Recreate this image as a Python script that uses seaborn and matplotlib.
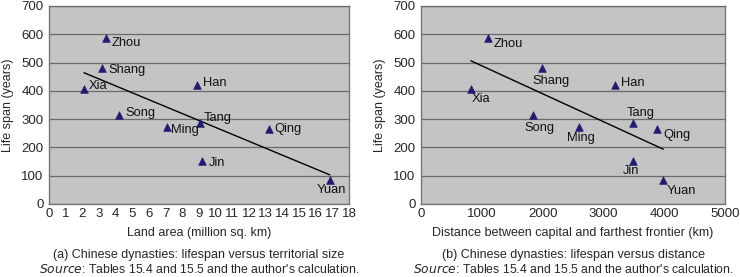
import numpy as np
import pandas as pd
import matplotlib
matplotlib.use("Agg")
import matplotlib.pyplot as plt
import seaborn as sns

# data
dynasties = ["Xia", "Shang", "Zhou", "Han", "Jin", "Tang", "Song", "Yuan", "Ming", "Qing"]
lifespan = [405, 482, 588, 421, 152, 285, 314, 84, 271, 264]
land_area = [2.1, 3.2, 3.4, 8.9, 9.2, 9.05, 4.2, 16.85, 7.05, 13.2]
distance = [820, 1995, 1100, 3185, 3495, 3495, 1845, 3985, 2595, 3885]

# label offsets in pixels (dx, dy down, ha)
offs_a = {"Zhou": (6, 5, "left"), "Shang": (6, 2, "left"), "Xia": (5, -3, "left"),
          "Song": (6, -2, "left"), "Ming": (5, 3, "left"), "Han": (6, -2, "left"),
          "Tang": (4, -5, "left"), "Qing": (5, 0, "left"), "Jin": (6, 2, "left"),
          "Yuan": (2, 10, "center")}
offs_b = {"Zhou": (6, 6, "left"), "Shang": (9, 13, "center"), "Xia": (10, 10, "center"),
          "Song": (6, 13, "center"), "Ming": (2, 11, "center"), "Han": (6, -2, "left"),
          "Tang": (7, -10, "center"), "Qing": (6, 6, "left"), "Jin": (-2, 10, "center"),
          "Yuan": (3, 11, "left")}

df = pd.DataFrame({"dynasty": dynasties, "life": lifespan,
                   "area": land_area, "dist": distance})

sns.set_theme(style="white")
plt.rcParams["font.family"] = ["Liberation Sans", "DejaVu Sans"]
plt.rcParams["font.size"] = 9

W, H = 740, 277
fig = plt.figure(figsize=(W / 100, H / 100), dpi=100)
ax1 = fig.add_axes([49 / W, 73 / H, 300 / W, 198 / H])
ax2 = fig.add_axes([421 / W, 73 / H, 304 / W, 198 / H])

bg = "#c4c4c4"
mk = "#221c70"


def panel(ax, xcol, offs, xlim, xticks, xlabel, caption):
    ax.set_facecolor(bg)
    ax.set_axisbelow(True)
    ax.yaxis.grid(True, color="#6a6a6a", lw=0.9)
    sns.regplot(data=df, x=xcol, y="life", ax=ax, scatter=False, ci=None,
                truncate=True, line_kws={"color": "black", "lw": 1.0})
    sns.scatterplot(data=df, x=xcol, y="life", ax=ax, marker="^", s=30,
                    color=mk, edgecolor=mk, linewidth=0.5, zorder=3)
    for _, r in df.iterrows():
        dx, dy, ha = offs[r["dynasty"]]
        ax.annotate(r["dynasty"], (r[xcol], r["life"]), xytext=(dx, -dy),
                    textcoords="offset pixels", ha=ha, va="center",
                    fontsize=9.3, color="#111111")
    ax.set_xlim(*xlim)
    ax.set_ylim(0, 700)
    ax.set_xticks(xticks)
    ax.set_yticks(range(0, 701, 100))
    ax.tick_params(axis="x", direction="in", length=3, color="#555555",
                   labelsize=9.5, pad=3)
    ax.tick_params(axis="y", length=0, labelsize=9.5, pad=4)
    for s in ["left", "bottom", "right"]:
        ax.spines[s].set_color("#777777")
        ax.spines[s].set_linewidth(1)
    ax.spines["top"].set_color("#6a6a6a")
    ax.spines["top"].set_linewidth(0.9)
    ax.set_xlabel(xlabel, fontsize=9, labelpad=5)
    ax.set_ylabel("Life span (years)", fontsize=9, labelpad=5)
    ax.text(0.5, -0.258, caption, transform=ax.transAxes, ha="center",
            va="center", fontsize=9)
    ax.text(0.5, -0.333, r"$\it{Source}$: Tables 15.4 and 15.5 and the author's calculation.",
            transform=ax.transAxes, ha="center", va="center", fontsize=8.8)


panel(ax1, "area", offs_a, (0, 18), range(0, 19),
      "Land area (million sq. km)",
      "(a) Chinese dynasties: lifespan versus territorial size")
panel(ax2, "dist", offs_b, (0, 5000), range(0, 5001, 1000),
      "Distance between capital and farthest frontier (km)",
      "(b) Chinese dynasties: lifespan versus distance")

fig.savefig("out.png", dpi=100, facecolor="white")
